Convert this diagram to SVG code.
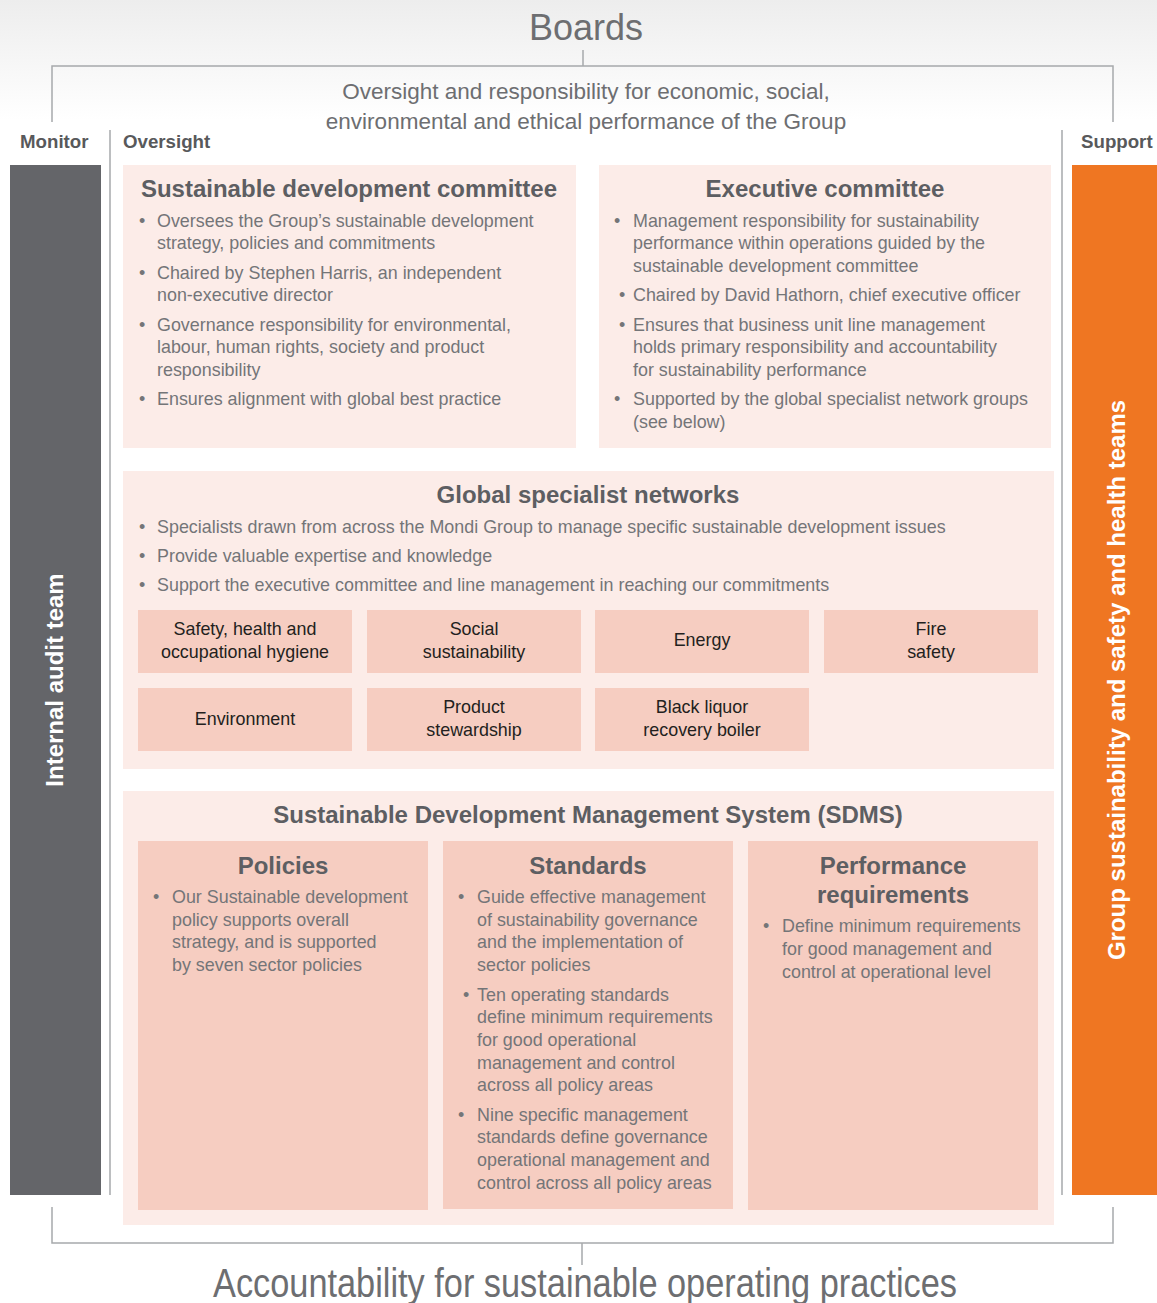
<svg xmlns="http://www.w3.org/2000/svg" width="1157" height="1303" viewBox="0 0 1157 1303">
<defs>
<linearGradient id="bg" x1="0" y1="0" x2="0" y2="1">
<stop offset="0" stop-color="#ededed"/>
<stop offset="1" stop-color="#ffffff"/>
</linearGradient>
<style>
text{font-family:"Liberation Sans",Arial,Helvetica,sans-serif}
.ln{stroke:#a7a9ac;stroke-width:1.5;fill:none}
.outer{fill:#fcece8}
.inner{fill:#f6cdc1}
.h{font-weight:bold;fill:#5d5e62;font-size:24px;text-anchor:middle}
.h2{font-weight:bold;fill:#5d5e62;font-size:24px;text-anchor:middle}
.b{fill:#747578;font-size:17.9px}
.c{fill:#231f20;font-size:17.9px;text-anchor:middle}
.lab{font-weight:bold;fill:#58595b;font-size:18.7px}
.big{fill:#6d6e71}
.vt{font-weight:bold;fill:#ffffff;font-size:24px;text-anchor:middle}
</style>
</defs>
<rect x="0" y="0" width="1157" height="120" fill="url(#bg)"/>

<g id="connectors">
<path class="ln" d="M583,50 V66 M52,122 V66 H1113 V122"/>
<path class="ln" d="M52,1207 V1243 H1113 V1207 M582,1243 V1265"/>
<path class="ln" d="M110,130 V1195 M1062,130 V1195"/>
</g>

<g id="boards">
<text class="big" x="586" y="40" font-size="36" text-anchor="middle">Boards</text>
<text class="big" x="586" y="99" font-size="22.5" text-anchor="middle">Oversight and responsibility for economic, social,</text>
<text class="big" x="586" y="129" font-size="22.5" text-anchor="middle">environmental and ethical performance of the Group</text>
</g>

<g id="labels">
<text class="lab" x="20" y="148">Monitor</text>
<text class="lab" x="123" y="148">Oversight</text>
<text class="lab" x="1081" y="148">Support</text>
</g>

<g id="internal-audit">
<rect x="10" y="165" width="91" height="1030" fill="#646569"/>
<text class="vt" transform="translate(63,680) rotate(-90)">Internal audit team</text>
</g>

<g id="group-teams">
<rect x="1072" y="165" width="85" height="1030" fill="#ef7622"/>
<text class="vt" transform="translate(1125,680) rotate(-90)">Group sustainability and safety and health teams</text>
</g>

<g id="sdc">
<rect class="outer" x="123" y="165" width="453" height="283"/>
<text class="h" x="349" y="197">Sustainable development committee</text>
<g class="b">
<text x="139" y="227">•</text><text x="157" y="227">Oversees the Group’s sustainable development</text>
<text x="157" y="249">strategy, policies and commitments</text>
<text x="139" y="279">•</text><text x="157" y="279">Chaired by Stephen Harris, an independent</text>
<text x="157" y="301">non-executive director</text>
<text x="139" y="331">•</text><text x="157" y="331">Governance responsibility for environmental,</text>
<text x="157" y="353">labour, human rights, society and product</text>
<text x="157" y="376">responsibility</text>
<text x="139" y="405">•</text><text x="157" y="405">Ensures alignment with global best practice</text>
</g>
</g>

<g id="exco">
<rect class="outer" x="599" y="165" width="452" height="283"/>
<text class="h" x="825" y="197">Executive committee</text>
<g class="b">
<text x="614" y="227">•</text><text x="633" y="227">Management responsibility for sustainability</text>
<text x="633" y="249">performance within operations guided by the</text>
<text x="633" y="272">sustainable development committee</text>
<text x="619" y="301">•</text><text x="633" y="301">Chaired by David Hathorn, chief executive officer</text>
<text x="619" y="331">•</text><text x="633" y="331">Ensures that business unit line management</text>
<text x="633" y="353">holds primary responsibility and accountability</text>
<text x="633" y="376">for sustainability performance</text>
<text x="614" y="405">•</text><text x="633" y="405">Supported by the global specialist network groups</text>
<text x="633" y="428">(see below)</text>
</g>
</g>

<g id="gsn">
<rect class="outer" x="123" y="471" width="931" height="298"/>
<text class="h" x="588" y="503">Global specialist networks</text>
<g class="b">
<text x="139" y="533">•</text><text x="157" y="533">Specialists drawn from across the Mondi Group to manage specific sustainable development issues</text>
<text x="139" y="562">•</text><text x="157" y="562">Provide valuable expertise and knowledge</text>
<text x="139" y="591">•</text><text x="157" y="591">Support the executive committee and line management in reaching our commitments</text>
</g>
</g>

<g id="n-safety">
<rect class="inner" x="138" y="610" width="214" height="63"/>
<text class="c" x="245" y="635">Safety, health and</text>
<text class="c" x="245" y="658">occupational hygiene</text>
</g>
<g id="n-social">
<rect class="inner" x="367" y="610" width="214" height="63"/>
<text class="c" x="474" y="635">Social</text>
<text class="c" x="474" y="658">sustainability</text>
</g>
<g id="n-energy">
<rect class="inner" x="595" y="610" width="214" height="63"/>
<text class="c" x="702" y="646">Energy</text>
</g>
<g id="n-fire">
<rect class="inner" x="824" y="610" width="214" height="63"/>
<text class="c" x="931" y="635">Fire</text>
<text class="c" x="931" y="658">safety</text>
</g>
<g id="n-environment">
<rect class="inner" x="138" y="688" width="214" height="63"/>
<text class="c" x="245" y="725">Environment</text>
</g>
<g id="n-product">
<rect class="inner" x="367" y="688" width="214" height="63"/>
<text class="c" x="474" y="713">Product</text>
<text class="c" x="474" y="736">stewardship</text>
</g>
<g id="n-blrb">
<rect class="inner" x="595" y="688" width="214" height="63"/>
<text class="c" x="702" y="713">Black liquor</text>
<text class="c" x="702" y="736">recovery boiler</text>
</g>

<g id="sdms">
<rect class="outer" x="123" y="791" width="931" height="434"/>
<text class="h" x="588" y="823">Sustainable Development Management System (SDMS)</text>
</g>

<g id="policies">
<rect class="inner" x="138" y="841" width="290" height="369"/>
<text class="h2" x="283" y="874">Policies</text>
<g class="b">
<text x="153" y="903">•</text><text x="172" y="903">Our Sustainable development</text>
<text x="172" y="926">policy supports overall</text>
<text x="172" y="948">strategy, and is supported</text>
<text x="172" y="971">by seven sector policies</text>
</g>
</g>

<g id="standards">
<rect class="inner" x="443" y="841" width="290" height="368"/>
<text class="h2" x="588" y="874">Standards</text>
<g class="b">
<text x="458" y="903">•</text><text x="477" y="903">Guide effective management</text>
<text x="477" y="926">of sustainability governance</text>
<text x="477" y="948">and the implementation of</text>
<text x="477" y="971">sector policies</text>
<text x="463" y="1001">•</text><text x="477" y="1001">Ten operating standards</text>
<text x="477" y="1023">define minimum requirements</text>
<text x="477" y="1046">for good operational</text>
<text x="477" y="1069">management and control</text>
<text x="477" y="1091">across all policy areas</text>
<text x="458" y="1121">•</text><text x="477" y="1121">Nine specific management</text>
<text x="477" y="1143">standards define governance</text>
<text x="477" y="1166">operational management and</text>
<text x="477" y="1189">control across all policy areas</text>
</g>
</g>

<g id="performance">
<rect class="inner" x="748" y="841" width="290" height="369"/>
<text class="h2" x="893" y="874">Performance</text>
<text class="h2" x="893" y="903">requirements</text>
<g class="b">
<text x="763" y="932">•</text><text x="782" y="932">Define minimum requirements</text>
<text x="782" y="955">for good management and</text>
<text x="782" y="978">control at operational level</text>
</g>
</g>

<g id="accountability">
<text class="big" x="213" y="1297" font-size="40" textLength="744" lengthAdjust="spacingAndGlyphs">Accountability for sustainable operating practices</text>
</g>
</svg>
